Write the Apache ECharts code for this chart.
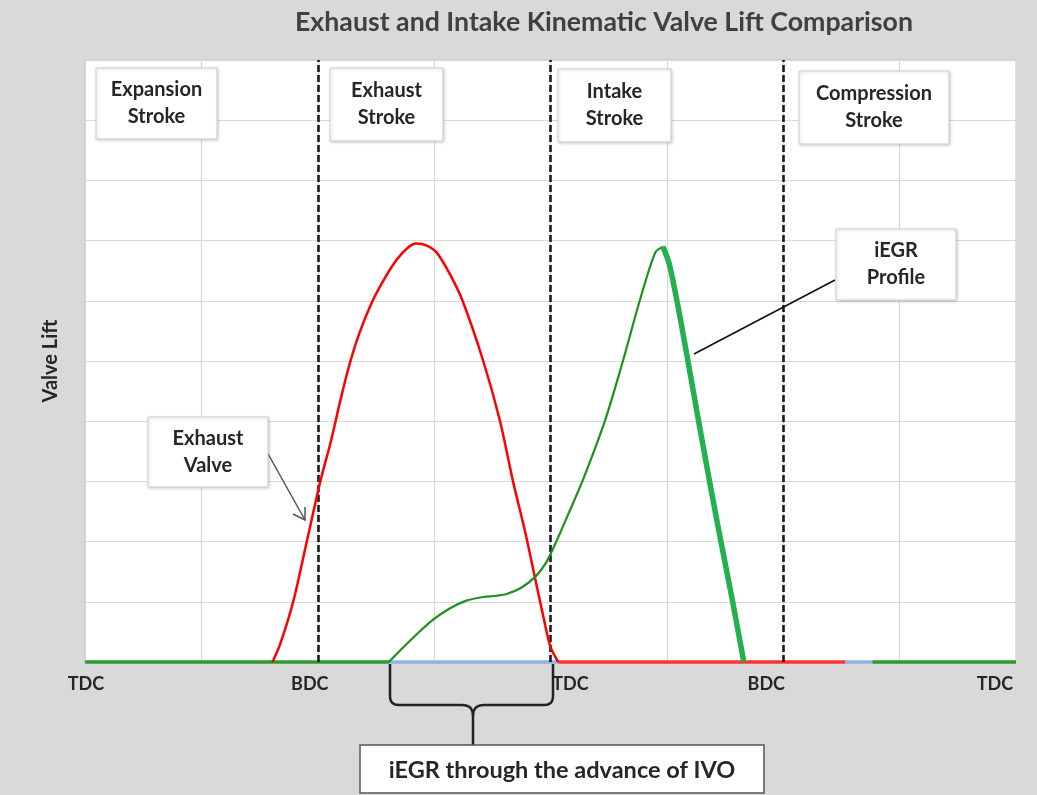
<!DOCTYPE html>
<html>
<head>
<meta charset="utf-8">
<title>Valve Lift Comparison</title>
<script src="https://cdn.jsdelivr.net/npm/echarts@6/dist/echarts.min.js"></script>
<style>
  html, body { margin: 0; padding: 0; background: #d9d9d9; }
  #main { width: 1037px; height: 795px; }
</style>
</head>
<body>
<div id="main"></div>
<script>
  // crank angle (deg) / valve lift
  const exhaustDeg  = [145, 151, 161, 171, 182, 190, 197, 204, 212, 222, 232, 241, 249, 256, 264, 272, 282, 292, 308, 321, 331, 340, 348, 355, 360, 366];
  const exhaustLift = [0, 0.3, 1.0, 1.95, 3.0, 3.65, 4.3, 4.9, 5.45, 5.98, 6.38, 6.68, 6.87, 6.95, 6.92, 6.8, 6.45, 6.0, 5.0, 4.0, 3.0, 2.2, 1.4, 0.7, 0.25, 0];

  const intakeDeg  = [235, 245, 257, 269, 282, 295, 308, 318, 326, 337, 348, 356, 363, 373, 385, 402, 416, 429, 441, 447];
  const intakeLift = [0, 0.22, 0.47, 0.7, 0.89, 1.02, 1.08, 1.1, 1.13, 1.23, 1.41, 1.63, 1.93, 2.42, 3.02, 4.0, 5.0, 6.0, 6.8, 6.9];

  const iegrDeg  = [447, 452, 460, 470, 480, 490, 500, 509.5];
  const iegrLift = [6.9, 6.6, 5.75, 4.55, 3.35, 2.2, 1.1, 0];

  // closed-valve stretches on the base line
  const greenBaseDeg = [[0, 235], [609, 720]];
  const blueBaseDeg  = [[235, 366], [588, 609]];
  const redBaseDeg   = [[366, 588]];

  const strokeDeg = [180, 360, 540];
  const tickDeg   = [0, 180, 360, 540, 720];
  const tickText  = ['TDC', 'BDC', 'TDC', 'BDC', 'TDC'];
  const tickStyle = ['t0', 't1', 't2', 't3', 't4'];

  function zip(xs, ys) {
    return xs.map(function (x, i) { return [x, ys[i]]; });
  }

  function baseSeries(ranges, color) {
    return ranges.map(function (r) {
      return {
        type: 'line', data: [[r[0], 0], [r[1], 0]], symbol: 'none', clip: false,
        lineStyle: { color: color, width: 3.5 }, silent: true, z: 3
      };
    });
  }

  const boxFont = 'bold 20px Lato';
  function makeBox(x, y, w, h, text) {
    return {
      type: 'group', x: x, y: y, z: 100,
      children: [
        {
          type: 'rect', z: 100, shape: { x: 0, y: 0, width: w, height: h },
          style: { fill: '#fff', stroke: '#d0d0d0', lineWidth: 1,
                   shadowBlur: 3, shadowColor: 'rgba(0,0,0,0.18)', shadowOffsetX: 1, shadowOffsetY: 1 }
        },
        {
          type: 'text', z: 101, x: w / 2, y: h / 2,
          style: { text: text, font: boxFont, fill: '#262626', align: 'center',
                   verticalAlign: 'middle', lineHeight: 27 }
        }
      ]
    };
  }

  // quadratic corner sampled into points for the brace
  function quad(p0, c, p1) {
    let pts = [];
    for (let i = 0; i <= 8; i++) {
      let t = i / 8, u = 1 - t;
      pts.push([u * u * p0[0] + 2 * u * t * c[0] + t * t * p1[0],
                u * u * p0[1] + 2 * u * t * c[1] + t * t * p1[1]]);
    }
    return pts;
  }
  let braceLeft = [[390, 664]]
    .concat(quad([390, 696], [390, 705], [399, 705]))
    .concat(quad([462, 705], [473, 705], [473, 716]))
    .concat([[473, 745]]);
  let braceRight = [[553, 664]]
    .concat(quad([553, 696], [553, 705], [544, 705]))
    .concat(quad([484, 705], [473, 705], [473, 716]));

  let chart = echarts.init(document.getElementById('main'));

  let series = []
    .concat(baseSeries(redBaseDeg, '#ff3333'))
    .concat(baseSeries(blueBaseDeg, '#8db3e2'))
    .concat(baseSeries(greenBaseDeg, '#2e9a2e'))
    .concat([
      {
        name: 'Exhaust', type: 'line', data: zip(exhaustDeg, exhaustLift),
        symbol: 'none', smooth: 0.3, clip: false, z: 5,
        lineStyle: { color: '#ff0000', width: 2.5 },
        markLine: {
          silent: true, symbol: 'none', label: { show: false },
          lineStyle: { color: '#1a1a1a', width: 2.6, type: [7, 3] },
          data: strokeDeg.map(function (d) { return { xAxis: d }; })
        }
      },
      {
        name: 'Intake', type: 'line', data: zip(intakeDeg, intakeLift),
        symbol: 'none', smooth: 0.3, clip: false, z: 6,
        lineStyle: { color: '#1f8f1f', width: 2.2 }
      },
      {
        name: 'iEGR', type: 'line', data: zip(iegrDeg, iegrLift),
        symbol: 'none', smooth: 0.25, clip: false, z: 7,
        lineStyle: { color: '#22b14c', width: 5.5 }
      }
    ]);

  let rich = {};
  tickStyle.forEach(function (s, i) {
    // small nudges so the labels sit where the original put them
    let pad = [[0, 0, 0, 2], [0, 16, 0, 0], [0, 0, 0, 40], [0, 34, 0, 0], [0, 42, 0, 0]][i];
    rich[s] = { fontFamily: 'Lato', fontWeight: 'bold', fontSize: 18, color: '#262626', padding: pad };
  });

  let option = {
    backgroundColor: '#d9d9d9',
    animation: false,
    grid: {
      left: 85, top: 60, right: 21, bottom: 133,
      show: true, backgroundColor: '#fff', borderColor: '#c4c4c4', borderWidth: 1
    },
    xAxis: {
      type: 'value', min: 0, max: 720, interval: 90,
      axisLine: { show: true, lineStyle: { color: '#bfbfbf' } },
      axisTick: { show: false },
      splitLine: { show: true, lineStyle: { color: '#d9d9d9', width: 1.2 } },
      axisLabel: {
        margin: 13, showMinLabel: true, showMaxLabel: true, rich: rich,
        formatter: function (v) {
          let i = tickDeg.indexOf(v);
          return i < 0 ? '' : '{' + tickStyle[i] + '|' + tickText[i] + '}';
        }
      }
    },
    yAxis: {
      type: 'value', min: 0, max: 10, interval: 1,
      name: 'Valve Lift', nameLocation: 'middle', nameGap: 24,
      nameTextStyle: { fontFamily: 'Lato', fontWeight: 'bold', fontSize: 20, color: '#262626' },
      axisLine: { show: false }, axisTick: { show: false }, axisLabel: { show: false },
      splitLine: { show: true, lineStyle: { color: '#d9d9d9', width: 1.2 } }
    },
    series: series,
    graphic: [
      {
        type: 'text', x: 604, y: 22, z: 100,
        style: { text: 'Exhaust and Intake Kinematic Valve Lift Comparison', font: 'bold 26.7px Lato',
                 fill: '#404040', align: 'center', verticalAlign: 'middle' }
      },
      makeBox(96, 68, 121, 71, 'Expansion\nStroke'),
      makeBox(330, 68, 113, 73, 'Exhaust\nStroke'),
      makeBox(558, 69, 113, 73, 'Intake\nStroke'),
      makeBox(799, 71, 150, 73, 'Compression\nStroke'),
      makeBox(836, 229, 120, 71, 'iEGR\nProfile'),
      makeBox(148, 417, 120, 70, 'Exhaust\nValve'),
      // leader to the iEGR profile
      { type: 'line', z: 99, shape: { x1: 835, y1: 280, x2: 694, y2: 354 },
        style: { stroke: '#111', lineWidth: 1.6 } },
      // arrow to the exhaust valve curve
      { type: 'line', z: 99, shape: { x1: 267, y1: 452, x2: 305, y2: 520 },
        style: { stroke: '#555', lineWidth: 1.5 } },
      { type: 'polyline', z: 99, shape: { points: [[293, 514], [305, 520], [305, 507]] },
        style: { stroke: '#555', lineWidth: 1.5, fill: null } },
      // brace under the advance of IVO
      { type: 'polyline', z: 99, shape: { points: braceLeft },
        style: { stroke: '#222', lineWidth: 2.5, fill: null } },
      { type: 'polyline', z: 99, shape: { points: braceRight },
        style: { stroke: '#222', lineWidth: 2.5, fill: null } },
      {
        type: 'group', x: 360, y: 745, z: 100,
        children: [
          { type: 'rect', z: 100, shape: { x: 0, y: 0, width: 404, height: 48 },
            style: { fill: '#fff', stroke: '#555', lineWidth: 1.5 } },
          { type: 'text', z: 101, x: 202, y: 25,
            style: { text: 'iEGR through the advance of IVO', font: 'bold 23.5px Lato', fill: '#262626',
                     align: 'center', verticalAlign: 'middle' } }
        ]
      }
    ]
  };

  chart.setOption(option);
</script>
</body>
</html>
